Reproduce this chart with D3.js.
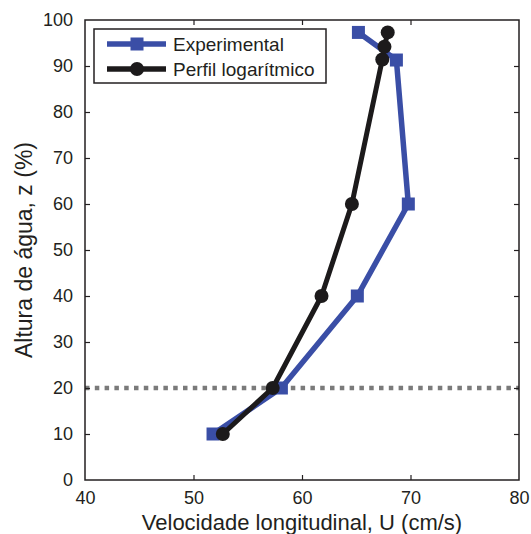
<!DOCTYPE html>
<html><head><meta charset="utf-8">
<script src="https://cdn.jsdelivr.net/npm/d3@7"></script>
<style>body{margin:0;background:#fff}svg{display:block}text{font-family:"Liberation Sans",Arial,sans-serif;fill:#231f20}</style>
</head><body>
<svg id="c" width="531" height="534"></svg>
<script>
const expU = [51.8, 58.1, 65.1, 69.8, 68.7, 65.2];
const expZ = [10, 20, 40, 60, 91.3, 97.3];
const logU = [52.7, 57.3, 61.8, 64.6, 67.4, 67.6, 67.9];
const logZ = [10, 20, 40, 60, 91.4, 94.2, 97.3];
const xTicks = [40, 50, 60, 70, 80];
const yTicks = [0, 10, 20, 30, 40, 50, 60, 70, 80, 90, 100];
const refZ = [20];
const seriesNames = ["Experimental", "Perfil logarítmico"];

const L = 85, R = 519, T = 20, B = 480;
const svg = d3.select("#c");
const x = d3.scaleLinear().domain([40, 80]).range([L, R]);
const y = d3.scaleLinear().domain([0, 100]).range([B, T]);
const blue = "#3a4ea6", black = "#1c1a1b";

// reference dotted line
svg.selectAll(".ref").data(refZ).enter().append("line")
  .attr("x1", x(40)).attr("x2", x(80)).attr("y1", d => y(d)).attr("y2", d => y(d))
  .attr("stroke", "#7a7a7a").attr("stroke-width", 4.5).attr("stroke-dasharray", "4.5,5.3");

// axes with inward ticks
const fs = 18;
const gx = svg.append("g").attr("transform", `translate(0,${B})`)
  .call(d3.axisBottom(x).tickValues(xTicks).tickSize(-5).tickPadding(11).tickFormat(d3.format("d")));
const gxt = svg.append("g").attr("transform", `translate(0,${T})`)
  .call(d3.axisTop(x).tickValues(xTicks).tickSize(-5).tickFormat(""));
const gy = svg.append("g").attr("transform", `translate(${L},0)`)
  .call(d3.axisLeft(y).tickValues(yTicks).tickSize(-5).tickPadding(12).tickFormat(d3.format("d")));
const gyr = svg.append("g").attr("transform", `translate(${R},0)`)
  .call(d3.axisRight(y).tickValues(yTicks).tickSize(-5).tickFormat(""));
[gx, gxt, gy, gyr].forEach(g => {
  g.select(".domain").remove();
  g.selectAll(".tick line").attr("stroke", "#231f20").attr("stroke-width", 1.2);
  g.selectAll("text").attr("font-size", fs).attr("font-family", '"Liberation Sans",Arial,sans-serif').attr("fill", "#231f20");
});
gx.selectAll(".tick").filter(d => d === 40 || d === 80).select("line").remove();
gxt.selectAll(".tick").filter(d => d === 40 || d === 80).select("line").remove();
gy.selectAll(".tick").filter(d => d === 0 || d === 100).select("line").remove();
gyr.selectAll(".tick").filter(d => d === 0 || d === 100).select("line").remove();

// frame
svg.append("rect").attr("x", L).attr("y", T).attr("width", R - L).attr("height", B - T)
  .attr("fill", "none").attr("stroke", "#231f20").attr("stroke-width", 1.5);

const line = d3.line().x(d => x(d[0])).y(d => y(d[1]));
const expData = expU.map((u, i) => [u, expZ[i]]);
const logData = logU.map((u, i) => [u, logZ[i]]);
const sq = 13, rc = 7;

// experimental
svg.append("path").datum(expData).attr("d", line).attr("fill", "none")
  .attr("stroke", blue).attr("stroke-width", 5.5).attr("stroke-linejoin", "miter");
svg.selectAll(".sq").data(expData).enter().append("rect")
  .attr("x", d => x(d[0]) - sq / 2).attr("y", d => y(d[1]) - sq / 2)
  .attr("width", sq).attr("height", sq).attr("fill", blue);

// log profile
svg.append("path").datum(logData).attr("d", line).attr("fill", "none")
  .attr("stroke", black).attr("stroke-width", 5).attr("stroke-linejoin", "round");
svg.selectAll(".ci").data(logData).enter().append("circle")
  .attr("cx", d => x(d[0])).attr("cy", d => y(d[1])).attr("r", rc).attr("fill", black);

// legend
const lg = svg.append("g");
lg.append("rect").attr("x", 94).attr("y", 29).attr("width", 232).attr("height", 54)
  .attr("fill", "#fff").attr("stroke", "#231f20").attr("stroke-width", 1.5);
const rows = [{name: seriesNames[0], c: blue, m: "s", yy: 44}, {name: seriesNames[1], c: black, m: "c", yy: 69}];
rows.forEach(r => {
  lg.append("line").attr("x1", 107).attr("x2", 166).attr("y1", r.yy).attr("y2", r.yy)
    .attr("stroke", r.c).attr("stroke-width", 5.5);
  if (r.m === "s") lg.append("rect").attr("x", 137 - sq / 2).attr("y", r.yy - sq / 2).attr("width", sq).attr("height", sq).attr("fill", r.c);
  else lg.append("circle").attr("cx", 137).attr("cy", r.yy).attr("r", rc).attr("fill", r.c);
  lg.append("text").attr("x", 173).attr("y", r.yy + 6.5).attr("font-size", 19).text(r.name);
});

// axis titles
svg.append("text").attr("x", (L + R) / 2).attr("y", 529.5).attr("text-anchor", "middle")
  .attr("font-size", 22).text("Velocidade longitudinal, U (cm/s)");
svg.append("text").attr("transform", `translate(32,${(T + B) / 2}) rotate(-90)`).attr("text-anchor", "middle")
  .attr("font-size", 23).text("Altura de água, z (%)");
</script>
</body></html>
